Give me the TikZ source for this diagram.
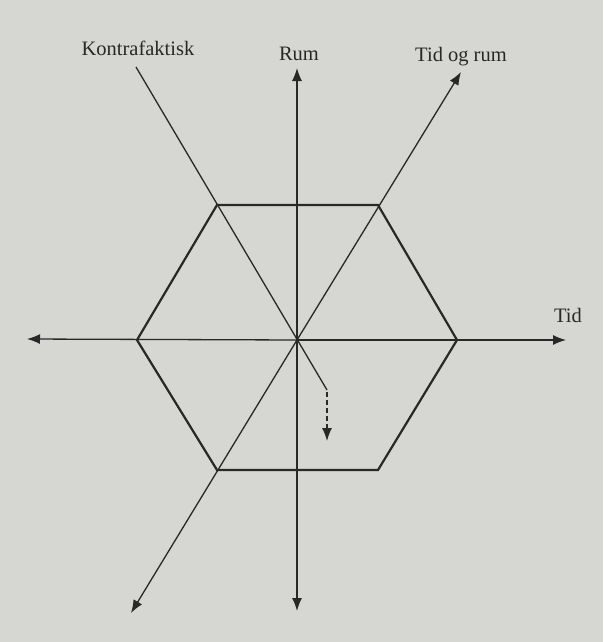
\documentclass[tikz,border=0pt]{standalone}
\usepackage{fontspec}
\setmainfont{Liberation Serif}
\usetikzlibrary{arrows.meta}
\definecolor{paper}{RGB}{214,214,211}
\definecolor{ink}{RGB}{40,40,40}
\begin{document}
\begin{tikzpicture}[x=1pt,y=-1pt,
  axis/.style={draw=ink,line width=1.3pt},
  tip/.style={-{Latex[length=13pt,width=10pt]}},
  hexline/.style={draw=ink,line width=2.2pt,line join=miter},
  lbl/.style={text=ink,font=\fontsize{20.5}{22}\selectfont,inner sep=0pt}]
\fill[paper] (0,0) rectangle (603,642);
\useasboundingbox (0,0) rectangle (603,642);
% centre and hexagon corners
\coordinate (O) at (297,340);
\coordinate (h1) at (137,340);
\coordinate (h2) at (217,205);
\coordinate (h3) at (378,205);
\coordinate (h4) at (457,340);
\coordinate (h5) at (378,470);
\coordinate (h6) at (217,470);
\draw[hexline] (h1) -- (h2) -- (h3) -- (h4) -- (h5) -- (h6) -- cycle;
% axis ends
\coordinate (L) at (27,339);
\coordinate (R) at (566,340);
\coordinate (U) at (297,68);
\coordinate (D) at (297,611);
\coordinate (TR) at (461,72);
\coordinate (BL) at (131,613);
\coordinate (K) at (136,67);
\coordinate (Kend) at (327,390);
\coordinate (Kdash) at (327,392);
\coordinate (Ktip) at (327,441);
\draw[axis,tip] (O) -- (L);
\draw[axis,tip] (O) -- (R);
\draw[axis,tip] (O) -- (U);
\draw[axis,tip] (O) -- (D);
\draw[axis,tip] (O) -- (TR);
\draw[axis,tip] (O) -- (BL);
\draw[axis] (K) -- (Kend);
\draw[axis,tip,dash pattern=on 5pt off 3pt] (Kdash) -- (Ktip);
% labels
\node[lbl] (kontra) at (138,48) {Kontrafaktisk};
\node[lbl] (rum) at (299,54) {Rum};
\node[lbl] (tidrum) at (461,57) {Tid og rum};
\node[lbl] (tid) at (568,315) {Tid};
\end{tikzpicture}
\end{document}
